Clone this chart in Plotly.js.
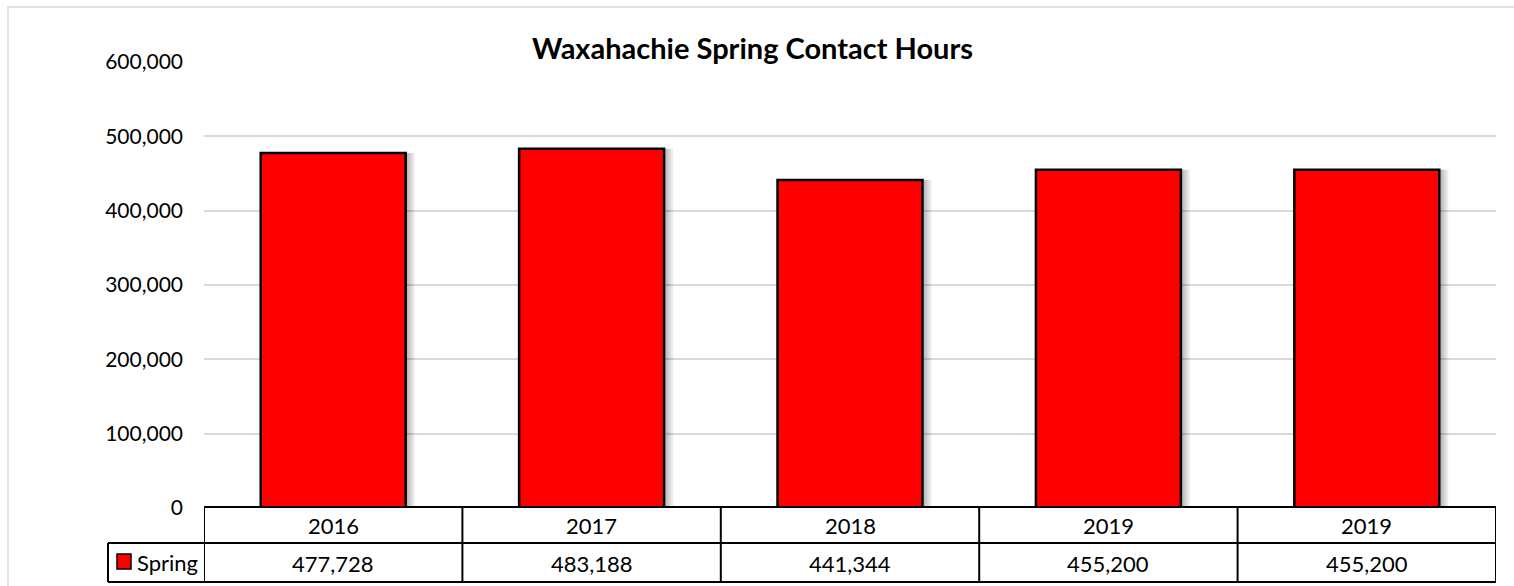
<!DOCTYPE html>
<html>
<head>
<meta charset="utf-8">
<script src="https://cdn.plot.ly/plotly-3.0.1.min.js"></script>
<style>html,body{margin:0;padding:0;background:#fff;}#chart{width:1514px;height:586px;}</style>
</head>
<body>
<div id="chart"></div>
<script>
var categories = ['2016', '2017', '2018', '2019', '2019'];
var springValues = [477728, 483188, 441344, 455200, 455200];
var seriesName = 'Spring';
var chartTitle = 'Waxahachie Spring Contact Hours';

var W = 1514, H = 586;
var M = {l: 204, r: 18, t: 62, b: 78};
var plotW = W - M.l - M.r, plotH = H - M.t - M.b;
var zeroPx = H - M.b;
function py(p) { return (zeroPx - p) / plotH; }   // pixel y -> paper y
function px(p) { return (p - M.l) / plotW; }      // pixel x -> paper x
var unitPx = plotW / categories.length;

var xs = categories.map(function (c, i) { return i; });
var FONT = 'Lato, "Open Sans", sans-serif';
var barW = 0.561;

var traces = [];
// soft shadow layers
[9, 7, 5, 3].forEach(function (s) {
  traces.push({
    type: 'bar', x: xs, y: springValues,
    width: barW, offset: -barW / 2 + s / unitPx,
    marker: {color: 'rgba(0,0,0,0.07)', line: {width: 0}},
    hoverinfo: 'skip', showlegend: false
  });
});
traces.push({
  type: 'bar', x: xs, y: springValues, name: seriesName,
  width: barW, offset: -barW / 2,
  marker: {color: '#ff0000', line: {color: '#000000', width: 2.5}},
  showlegend: false
});

var shapes = [];
var annotations = [];
var lineStyle = {color: '#000000', width: 2};
var yRow0 = py(507), yRow1 = py(543), yRow2 = py(582);
// horizontal table lines
shapes.push({type: 'line', xref: 'paper', yref: 'paper', x0: 0, x1: 1, y0: yRow0, y1: yRow0, line: lineStyle});
shapes.push({type: 'line', xref: 'paper', yref: 'paper', x0: px(108), x1: 1, y0: yRow1, y1: yRow1, line: lineStyle});
shapes.push({type: 'line', xref: 'paper', yref: 'paper', x0: px(108), x1: 1, y0: yRow2, y1: yRow2, line: lineStyle});
// legend cell left edge
shapes.push({type: 'line', xref: 'paper', yref: 'paper', x0: px(108), x1: px(108), y0: yRow1, y1: yRow2, line: lineStyle});
// vertical column lines
for (var i = 0; i <= categories.length; i++) {
  shapes.push({type: 'line', xref: 'x', yref: 'paper', x0: i - 0.5, x1: i - 0.5, y0: yRow0, y1: yRow2, line: lineStyle});
}
// legend key square
shapes.push({type: 'rect', xref: 'paper', yref: 'paper', x0: px(117), x1: px(131), y0: py(554), y1: py(569),
  fillcolor: '#ff0000', line: {color: '#000000', width: 1.5}});
// outer chart border (left + top visible)
shapes.push({type: 'rect', xref: 'paper', yref: 'paper', x0: px(8), x1: px(1530), y0: py(7), y1: py(600),
  fillcolor: 'rgba(0,0,0,0)', line: {color: '#d9d9d9', width: 1.5}, layer: 'below'});

categories.forEach(function (c, i) {
  annotations.push({xref: 'x', yref: 'paper', x: i, y: py(525), text: c, showarrow: false,
    xanchor: 'center', yanchor: 'middle', font: {family: FONT, size: 22, color: '#000'}});
  annotations.push({xref: 'x', yref: 'paper', x: i, y: py(563), text: springValues[i].toLocaleString('en-US'), showarrow: false,
    xanchor: 'center', yanchor: 'middle', font: {family: FONT, size: 22, color: '#000'}});
});
annotations.push({xref: 'paper', yref: 'paper', x: px(135), y: py(562), text: seriesName, showarrow: false,
  xanchor: 'left', yanchor: 'middle', font: {family: FONT, size: 22, color: '#000'}});

var layout = {
  width: W, height: H,
  margin: M,
  paper_bgcolor: '#ffffff', plot_bgcolor: '#ffffff',
  barmode: 'overlay',
  title: {text: '<b>' + chartTitle + '</b>', x: 0.497, xref: 'container', xanchor: 'center',
    y: 1 - 49 / H, yref: 'container', yanchor: 'middle',
    font: {family: FONT, size: 29, color: '#000'}},
  xaxis: {range: [-0.5, categories.length - 0.5], showticklabels: false, showgrid: false,
    zeroline: false, showline: false, ticks: '', fixedrange: true},
  yaxis: {range: [0, 600000], dtick: 100000, tickformat: ',d', showgrid: true, gridcolor: '#d9d9d9', gridwidth: 2,
    zeroline: false, showline: false, ticks: '', ticklabelstandoff: 20,
    tickfont: {family: FONT, size: 21, color: '#000'}},
  shapes: shapes,
  annotations: annotations,
  showlegend: false
};

Plotly.newPlot('chart', traces, layout, {displayModeBar: false, staticPlot: true});
</script>
</body>
</html>
